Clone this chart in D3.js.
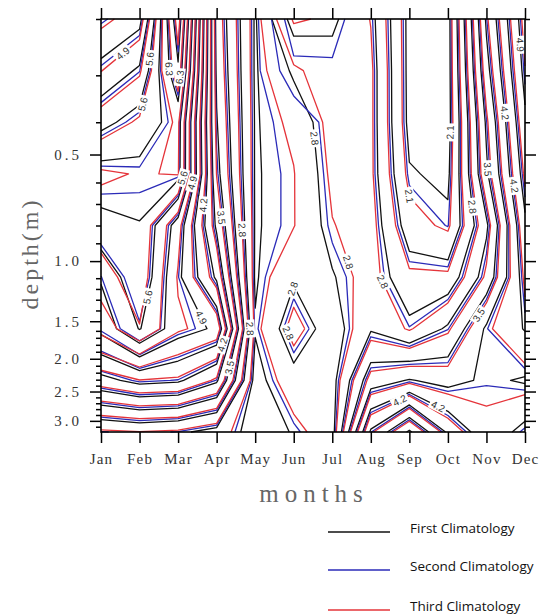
<!DOCTYPE html>
<html>
<head>
<meta charset="utf-8">
<script src="https://cdn.jsdelivr.net/npm/d3@7"></script>
<style>
  body { margin: 0; background: #fff; }
  svg { display: block; }
</style>
</head>
<body>
<svg id="chart" width="541" height="614"></svg>
<script>
// ---- data -------------------------------------------------------------
const months = ["Jan", "Feb", "Mar", "Apr", "May", "Jun", "Jul", "Aug", "Sep", "Oct", "Nov", "Dec"];
// depth of each data level (m)
const depths = [0.2, 0.29, 0.4, 0.56, 0.8, 1.09, 1.57, 2.31, 3.19];
const majorDepthTicks = [0.5, 1.0, 1.5, 2.0, 2.5, 3.0];
const minorDepthTicks = [0.2, 0.3, 0.4, 0.6, 0.7, 0.8, 0.9, 1.1, 1.2, 1.3, 1.4, 1.6, 1.7, 1.8, 1.9,
                         2.1, 2.2, 2.3, 2.4, 2.6, 2.7, 2.8, 2.9, 3.1];
const contourLevels = [1.4, 1.75, 2.1, 2.45, 2.8, 3.15, 3.5, 3.85, 4.2, 4.55, 4.9, 5.25, 5.6, 5.95, 6.3, 6.65, 7.0, 7.35];
const labeledLevels = [2.1, 2.8, 3.5, 4.2, 4.9, 5.6, 6.3, 7.0];

// rows: depth levels (top to bottom), columns: Jan..Dec
const firstClimatology = [
  [4.57, 4.80, 6.90, 3.40, 2.42, 3.30, 3.20, 2.90, 2.02, 2.00, 3.90, 5.10],
  [5.00, 5.30, 6.60, 3.45, 2.42, 2.85, 3.05, 2.95, 2.02, 2.00, 3.75, 5.00],
  [5.50, 5.75, 6.10, 3.52, 2.43, 2.60, 3.00, 2.95, 2.03, 2.00, 3.55, 4.85],
  [6.10, 6.05, 6.07, 3.60, 2.43, 2.55, 2.95, 2.95, 2.12, 2.05, 3.45, 4.70],
  [5.87, 5.94, 5.10, 3.80, 2.43, 2.55, 2.90, 3.00, 2.30, 2.15, 3.10, 4.50],
  [5.29, 5.90, 4.97, 4.15, 2.42, 2.76, 2.78, 3.00, 2.60, 2.60, 3.30, 4.35],
  [5.00, 5.62, 5.05, 4.85, 2.47, 3.00, 2.65, 3.12, 2.87, 3.20, 3.90, 4.22],
  [4.10, 4.30, 4.25, 3.90, 2.35, 2.70, 2.70, 3.70, 3.87, 3.75, 3.90, 3.82],
  [2.85, 2.90, 2.85, 2.70, 2.30, 2.47, 2.70, 4.60, 5.30, 4.50, 4.00, 4.30]
];
const secondClimatology = [
  [4.51, 4.74, 6.84, 3.34, 2.36, 3.40, 3.30, 2.84, 1.96, 1.94, 3.84, 5.04],
  [4.94, 5.24, 6.54, 3.39, 2.36, 3.05, 3.10, 2.89, 1.96, 1.94, 3.69, 4.94],
  [5.44, 5.69, 6.04, 3.46, 2.37, 2.54, 2.94, 2.89, 1.97, 1.94, 3.49, 4.79],
  [6.04, 5.99, 6.01, 3.54, 2.37, 2.49, 2.89, 2.89, 2.06, 1.99, 3.39, 4.64],
  [5.81, 5.88, 5.04, 3.74, 2.37, 2.49, 2.84, 2.94, 2.24, 2.09, 3.04, 4.44],
  [5.24, 5.84, 4.91, 4.09, 2.36, 2.70, 2.72, 2.94, 2.54, 2.54, 3.24, 4.29],
  [4.94, 5.56, 4.99, 4.79, 2.41, 2.94, 2.59, 3.06, 2.81, 3.14, 3.84, 4.16],
  [4.04, 4.24, 4.19, 3.84, 2.29, 2.64, 2.64, 3.64, 3.81, 3.69, 3.84, 3.76],
  [2.79, 2.84, 2.79, 2.64, 2.24, 2.41, 2.64, 4.54, 5.24, 4.44, 3.94, 4.24]
];
const thirdClimatology = [
  [4.47, 4.70, 6.80, 3.30, 2.32, 3.19, 3.10, 2.79, 1.92, 1.90, 3.80, 5.00],
  [4.89, 5.20, 6.50, 3.35, 2.32, 2.75, 2.95, 2.85, 1.92, 1.90, 3.65, 4.89],
  [5.40, 5.65, 6.00, 3.42, 2.33, 2.50, 2.90, 2.85, 1.93, 1.90, 3.45, 4.75],
  [6.00, 5.93, 5.97, 3.49, 2.33, 2.44, 2.85, 2.85, 2.02, 1.95, 3.35, 4.60],
  [5.77, 5.84, 5.00, 3.70, 2.33, 2.44, 2.79, 2.90, 2.20, 2.05, 3.00, 4.40],
  [5.45, 5.80, 4.87, 4.05, 2.32, 2.66, 2.68, 2.90, 2.50, 2.50, 3.20, 4.25],
  [5.02, 5.58, 4.95, 4.75, 2.37, 2.90, 2.55, 3.02, 2.77, 3.10, 3.80, 4.12],
  [4.00, 4.19, 4.15, 3.80, 2.25, 2.60, 2.60, 3.60, 3.77, 3.65, 3.80, 3.72],
  [2.75, 2.79, 2.75, 2.60, 2.20, 2.37, 2.60, 4.50, 5.20, 4.40, 3.90, 4.19]
];

const series = [
  { name: "First Climatology",  grid: firstClimatology,  color: "#111111", labelAt: 0.3 },
  { name: "Second Climatology", grid: secondClimatology, color: "#2b2bb8", labelAt: null },
  { name: "Third Climatology",  grid: thirdClimatology,  color: "#e5343a", labelAt: 0.6 }
];

// ---- layout -----------------------------------------------------------
const svg = d3.select("#chart");
const plot = { left: 101, right: 525, top: 19, bottom: 432 };

const x = d3.scaleLinear().domain([0, months.length - 1]).range([plot.left, plot.right]);
// data levels are evenly spaced down the plot
const yLevel = d3.scaleLinear().domain([0, depths.length - 1]).range([plot.top, plot.bottom]);
// depth (m) -> pixel, piecewise through the data levels
const yDepth = d3.scaleLinear().domain(depths).range(depths.map((d, i) => yLevel(i)));

svg.append("rect").attr("width", 541).attr("height", 614).attr("fill", "#fff");

// ---- contours ---------------------------------------------------------
const nx = months.length, ny = depths.length;
const contourGen = d3.contours().size([nx, ny]).thresholds(contourLevels);

// turn contour rings into open lines, dropping the runs along the frame
function contourPieces(grid) {
  const out = [];
  const onSameEdge = (a, b) =>
    (a[0] === 0 && b[0] === 0) || (a[0] === nx - 1 && b[0] === nx - 1) ||
    (a[1] === 0 && b[1] === 0) || (a[1] === ny - 1 && b[1] === ny - 1);
  contourGen(grid.flat()).forEach(mp => {
    mp.coordinates.forEach(poly => poly.forEach(ring => {
      let pts = ring.slice(0, -1).map(([gx, gy]) => [
        Math.max(0, Math.min(nx - 1, gx - 0.5)),
        Math.max(0, Math.min(ny - 1, gy - 0.5))
      ]);
      const n = pts.length;
      let start = -1;
      for (let i = 0; i < n; i++) {
        if (onSameEdge(pts[i], pts[(i + 1) % n])) { start = (i + 1) % n; break; }
      }
      if (start < 0) {
        out.push({ value: mp.value, pts: pts.concat([pts[0]]) });
        return;
      }
      pts = pts.slice(start).concat(pts.slice(0, start));
      let cur = [];
      for (let i = 0; i < n; i++) {
        const a = pts[i], b = pts[(i + 1) % n];
        if (onSameEdge(a, b)) {
          if (cur.length > 1) out.push({ value: mp.value, pts: cur });
          cur = [];
        } else {
          if (!cur.length) cur.push(a);
          cur.push(b);
        }
      }
      if (cur.length > 1) out.push({ value: mp.value, pts: cur });
    }));
  });
  return out;
}

const line = d3.line().x(p => x(p[0])).y(p => yLevel(p[1]));
const contourLayer = svg.append("g").attr("fill", "none");
const labelJobs = [];

series.forEach(s => {
  const pieces = contourPieces(s.grid);
  contourLayer.append("g")
    .attr("stroke", s.color)
    .attr("stroke-width", 1.3)
    .attr("stroke-linejoin", "round")
    .selectAll("path")
    .data(pieces)
    .join("path")
    .attr("d", d => line(d.pts));
  if (s.labelAt !== null) {
    pieces.filter(p => labeledLevels.some(l => Math.abs(l - p.value) < 1e-6))
      .forEach(p => labelJobs.push({ piece: p, at: s.labelAt }));
  }
});

// contour labels, placed along each labelled line
const labelLayer = svg.append("g");
labelJobs.forEach(job => {
  const px = job.piece.pts.map(p => [x(p[0]), yLevel(p[1])]);
  const seg = [];
  let total = 0;
  for (let i = 0; i < px.length - 1; i++) {
    const l = Math.hypot(px[i + 1][0] - px[i][0], px[i + 1][1] - px[i][1]);
    seg.push(l); total += l;
  }
  if (total < 70) return;
  let target = total * job.at, i = 0;
  while (i < seg.length - 1 && target > seg[i]) { target -= seg[i]; i++; }
  const t = seg[i] ? target / seg[i] : 0;
  const a = px[i], b = px[i + 1];
  const cx = a[0] + (b[0] - a[0]) * t, cy = a[1] + (b[1] - a[1]) * t;
  let ang = Math.atan2(b[1] - a[1], b[0] - a[0]) * 180 / Math.PI;
  if (ang > 90) ang -= 180;
  if (ang < -90) ang += 180;
  const g = labelLayer.append("g").attr("transform", `translate(${cx},${cy}) rotate(${ang})`);
  const txt = d3.format(".1f")(job.piece.value);
  g.append("rect").attr("x", -9).attr("y", -5).attr("width", 18).attr("height", 10).attr("fill", "#fff");
  g.append("text").attr("text-anchor", "middle").attr("dy", "0.35em")
    .attr("font-family", "Liberation Sans, Arial, sans-serif").attr("font-size", 10)
    .attr("fill", "#333").text(txt);
});

// ---- frame and axes ---------------------------------------------------
const axisFont = "Liberation Serif, Times New Roman, serif";
svg.append("rect")
  .attr("x", plot.left).attr("y", plot.top)
  .attr("width", plot.right - plot.left).attr("height", plot.bottom - plot.top)
  .attr("fill", "none").attr("stroke", "#000").attr("stroke-width", 1.6);

const monthIdx = d3.range(months.length);
const bottomAxis = svg.append("g").attr("transform", `translate(0,${plot.bottom})`)
  .call(d3.axisBottom(x).tickValues(monthIdx).tickSize(11).tickPadding(10).tickFormat(i => months[i]));
const topAxis = svg.append("g").attr("transform", `translate(0,${plot.top})`)
  .call(d3.axisTop(x).tickValues(monthIdx).tickSize(11).tickFormat(""));
const leftMajor = svg.append("g").attr("transform", `translate(${plot.left},0)`)
  .call(d3.axisLeft(yDepth).tickValues(majorDepthTicks).tickSize(11).tickPadding(8).tickFormat(d3.format(".1f")));
const leftMinor = svg.append("g").attr("transform", `translate(${plot.left},0)`)
  .call(d3.axisLeft(yDepth).tickValues(minorDepthTicks).tickSize(5).tickFormat(""));
const rightMajor = svg.append("g").attr("transform", `translate(${plot.right},0)`)
  .call(d3.axisRight(yDepth).tickValues(majorDepthTicks).tickSize(11).tickFormat(""));
const rightMinor = svg.append("g").attr("transform", `translate(${plot.right},0)`)
  .call(d3.axisRight(yDepth).tickValues(minorDepthTicks).tickSize(5).tickFormat(""));

[bottomAxis, topAxis, leftMajor, leftMinor, rightMajor, rightMinor].forEach(g => {
  g.select(".domain").remove();
  g.selectAll(".tick line").attr("stroke", "#000").attr("stroke-width", 1.5);
});
bottomAxis.selectAll(".tick text")
  .attr("font-family", axisFont).attr("font-size", 15).attr("fill", "#333")
  .attr("letter-spacing", 1.2);
leftMajor.selectAll(".tick text")
  .attr("font-family", axisFont).attr("font-size", 15).attr("fill", "#333")
  .attr("letter-spacing", 3);

svg.append("text")
  .attr("transform", `translate(38,${(plot.top + plot.bottom) / 2 + 28}) rotate(-90)`)
  .attr("text-anchor", "middle")
  .attr("font-family", axisFont).attr("font-size", 24).attr("fill", "#666")
  .attr("letter-spacing", 3).text("depth(m)");
svg.append("text")
  .attr("x", 314).attr("y", 502).attr("text-anchor", "middle")
  .attr("font-family", axisFont).attr("font-size", 25).attr("fill", "#666")
  .attr("letter-spacing", 6).text("months");

// ---- legend -----------------------------------------------------------
const legendY = [532, 570, 610];
const legend = svg.append("g");
series.forEach((s, i) => {
  legend.append("line").attr("x1", 328).attr("x2", 390)
    .attr("y1", legendY[i]).attr("y2", legendY[i])
    .attr("stroke", s.color).attr("stroke-width", 1.6);
  legend.append("text").attr("x", 410).attr("y", legendY[i] + 1)
    .attr("font-family", "Open Sans, Liberation Sans, sans-serif").attr("font-size", 13.5)
    .attr("fill", "#111").text(s.name);
});
</script>
</body>
</html>
